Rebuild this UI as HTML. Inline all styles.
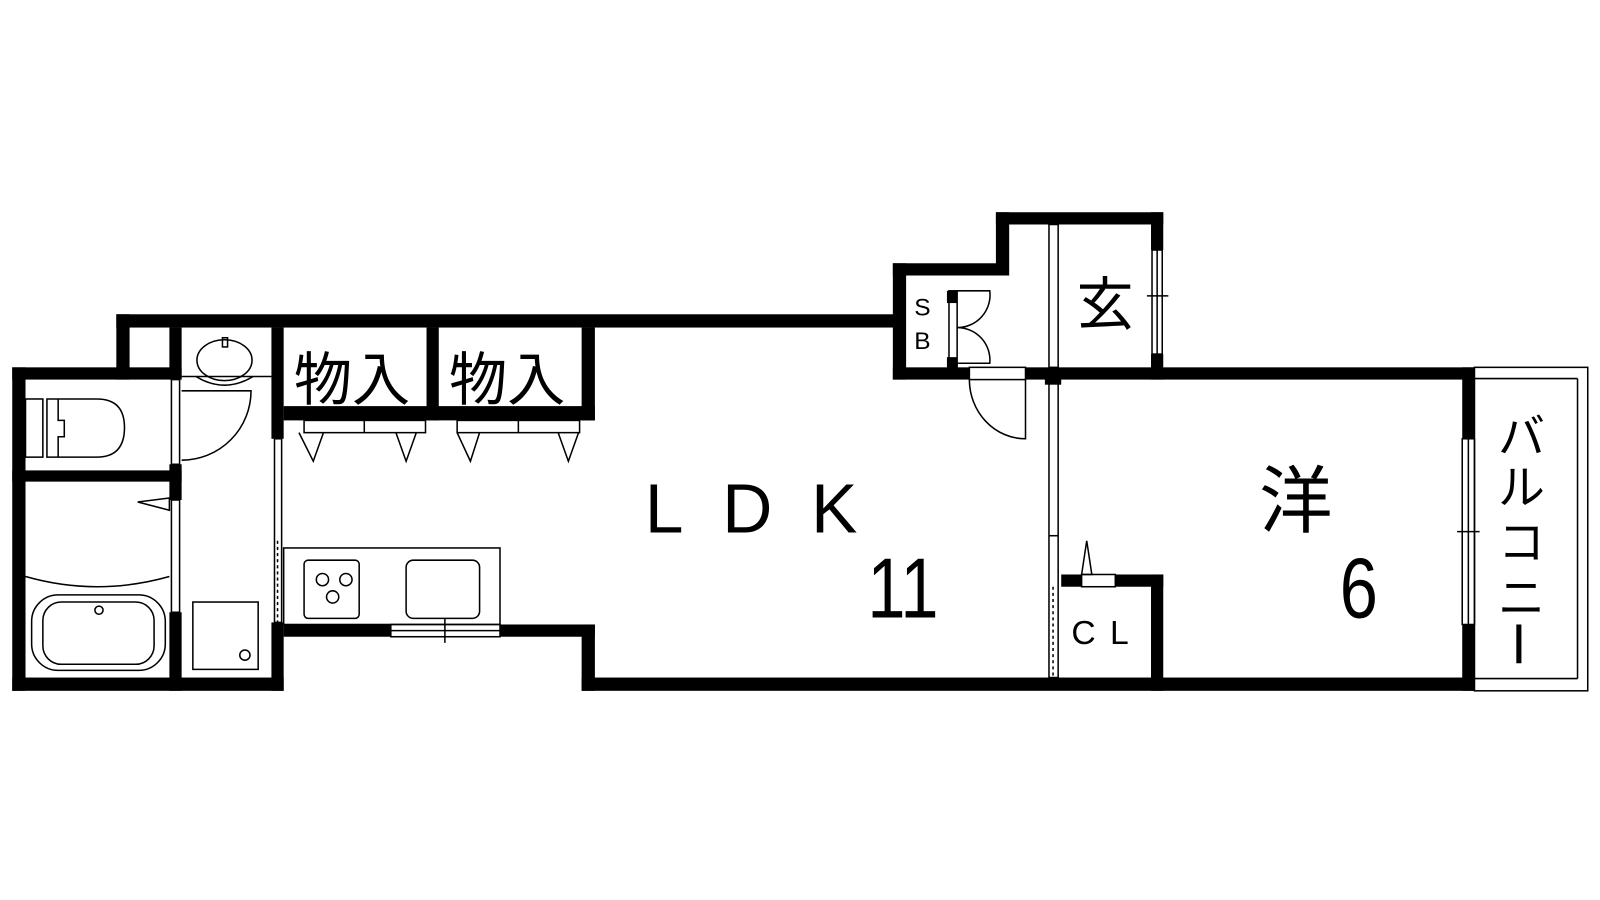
<!DOCTYPE html>
<html><head><meta charset="utf-8"><style>
html,body{margin:0;padding:0;background:#fff;width:1600px;height:900px;overflow:hidden}
svg{display:block}
text{font-family:"Liberation Sans","Noto Sans CJK JP",sans-serif;fill:#000}
</style></head><body>
<svg width="1600" height="900" viewBox="0 0 1600 900" xmlns="http://www.w3.org/2000/svg">
<g transform="scale(1.0204)">
<g fill="#000">
<rect x="114" y="308" width="770" height="13"/>
<rect x="114" y="308" width="13" height="64"/>
<rect x="12" y="360" width="166" height="12"/>
<rect x="12" y="360" width="13" height="317"/>
<rect x="12" y="664" width="266" height="13"/>
<rect x="12" y="461" width="166" height="11"/>
<rect x="166" y="321" width="12" height="51"/>
<rect x="166" y="455" width="12" height="35"/>
<rect x="166" y="600" width="12" height="77"/>
<rect x="266" y="321" width="12" height="109"/>
<rect x="266" y="610" width="12" height="67"/>
<rect x="278" y="612" width="105" height="12"/>
<rect x="490" y="612" width="93" height="12"/>
<rect x="570" y="612" width="13" height="65"/>
<rect x="570" y="664" width="875" height="13"/>
<rect x="278" y="398" width="305" height="14"/>
<rect x="418" y="321" width="12" height="91"/>
<rect x="570" y="321" width="13" height="91"/>
<rect x="875" y="258" width="13" height="114"/>
<rect x="875" y="258" width="113" height="12"/>
<rect x="976" y="208" width="13" height="62"/>
<rect x="976" y="208" width="164" height="12"/>
<rect x="1128" y="208" width="12" height="37"/>
<rect x="1128" y="347" width="12" height="25"/>
<rect x="875" y="360" width="75" height="12"/>
<rect x="1005" y="360" width="440" height="12"/>
<rect x="928" y="285" width="10" height="12"/>
<rect x="928" y="350" width="10" height="12"/>
<rect x="1433" y="360" width="12" height="70"/>
<rect x="1433" y="612" width="12" height="65"/>
<rect x="1040" y="563" width="20" height="12"/>
<rect x="1093" y="563" width="47" height="12"/>
<rect x="1128" y="563" width="12" height="114"/>
<rect x="1024" y="365" width="16" height="12"/>
</g>
<g fill="none" stroke="#000" stroke-width="1.5">
<rect x="1445" y="360" width="111" height="317"/>
<line x1="1445" y1="371" x2="1546" y2="371"/>
<line x1="1546" y1="371" x2="1546" y2="665"/>
<line x1="1445" y1="665" x2="1546" y2="665"/>
<rect x="1433" y="430" width="12" height="182"/>
<line x1="1439" y1="430" x2="1439" y2="612"/>
<line x1="1428" y1="521" x2="1450" y2="521"/>
<rect x="1129" y="245" width="10" height="102"/>
<line x1="1134" y1="245" x2="1134" y2="347"/>
<line x1="1124" y1="290" x2="1145" y2="290"/>
<rect x="383" y="612" width="107" height="12"/>
<line x1="383" y1="618" x2="490" y2="618"/>
<line x1="436" y1="606" x2="436" y2="630"/>
<rect x="1028" y="220" width="9" height="140"/>
<rect x="1028" y="372" width="9" height="292"/>
<line x1="1028" y1="525" x2="1037" y2="525"/>
<line x1="1032" y1="575" x2="1032" y2="664" stroke-dasharray="3,3"/>
<rect x="269" y="430" width="7" height="180"/>
<line x1="272" y1="530" x2="272" y2="610" stroke-dasharray="3,3"/>
<rect x="168" y="372" width="8" height="83"/>
<rect x="168" y="490" width="8" height="110"/>
<path d="M178 383 L246 383 A68 68 0 0 1 178 451"/>
<path d="M950 372 A55 58 0 0 0 1005 430 L1005 372"/>
<rect x="950" y="360" width="55" height="12"/>
<path d="M938 285 L970 285 A32 32 0 0 1 938 321 M938 356 L970 356 A32 32 0 0 0 938 321"/>
<rect x="930" y="285" width="8" height="77"/>
<polygon points="166,488 135,492 166,500"/>
<polygon points="1060,563 1065,530 1070,563"/>
<rect x="1060" y="563" width="33" height="12"/>
<rect x="298" y="412" width="119" height="12"/>
<line x1="357" y1="412" x2="357" y2="424"/>
<rect x="448" y="412" width="120" height="12"/>
<line x1="508" y1="412" x2="508" y2="424"/>
<polyline points="293,424 307,452 317,424"/>
<polyline points="388,424 398,452 408,424"/>
<polyline points="448,424 461,452 470,424"/>
<polyline points="547,424 557,452 567,424"/>
<line x1="178" y1="369" x2="266" y2="369"/>
<ellipse cx="220" cy="353" rx="27" ry="20"/>
<path d="M192 369 Q220 386 248 369"/>
<rect x="218" y="331" width="5" height="9"/>
<rect x="25" y="391" width="17" height="57"/>
<path d="M46 391 L95 391 Q122 391 122 419 Q122 448 95 448 L46 448 Z"/>
<path d="M57 391 L57 412 L63 412 L63 428 L57 428 L57 448"/>
<path d="M25 565 Q95 585 166 565"/>
<rect x="31" y="583" width="131" height="74" rx="26"/>
<rect x="42" y="590" width="109" height="61" rx="18"/>
<circle cx="97" cy="598" r="4"/>
<rect x="189" y="590" width="64" height="66"/>
<circle cx="240" cy="642" r="5"/>
<rect x="278" y="537" width="212" height="75"/>
<rect x="298" y="549" width="54" height="57" rx="4"/>
<circle cx="316" cy="568" r="6"/><circle cx="339" cy="568" r="6"/><circle cx="326" cy="585" r="6"/>
<rect x="398" y="549" width="72" height="57" rx="7"/>
</g>
<text x="288" y="392" font-size="57">物入</text>
<text x="440" y="392" font-size="57">物入</text>
<text x="632" y="522" font-size="68" letter-spacing="38">LDK</text>
<text x="850" y="605" font-size="84" transform="translate(850,0) scale(0.8,1) translate(-850,0)">11</text>
<text x="1234" y="516" font-size="72">洋</text>
<text x="1313" y="605" font-size="84" transform="translate(1313,0) scale(0.8,1) translate(-1313,0)">6</text>
<text x="1055" y="318" font-size="56">玄</text>
<text x="896" y="309" font-size="24">S</text>
<text x="896" y="342" font-size="24">B</text>
<text x="1050" y="631" font-size="33" letter-spacing="14">CL</text>
<text font-size="46" x="1468" y="444">バ</text>
<text font-size="46" x="1468" y="494">ル</text>
<text font-size="46" x="1468" y="548">コ</text>
<text font-size="46" x="1468" y="602">ニ</text>
<rect x="1486" y="612" width="5" height="38" fill="#000"/>
</g>
</svg>
</body></html>
